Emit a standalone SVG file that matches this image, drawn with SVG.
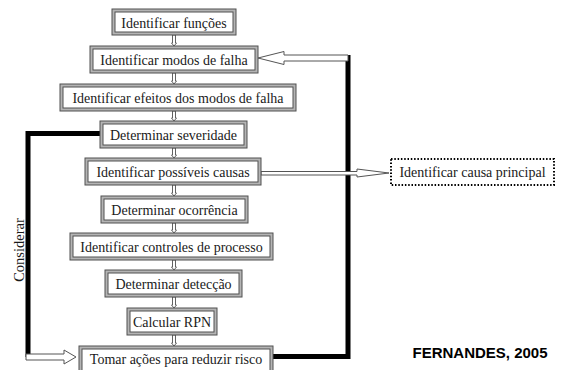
<svg xmlns="http://www.w3.org/2000/svg" width="568" height="370" viewBox="0 0 568 370">
<style>
.o{fill:#b4b4b4;stroke:#505050;stroke-width:1}
.i{fill:#fff;stroke:#505050;stroke-width:1}
.t{font-family:'Liberation Serif','Times New Roman','DejaVu Serif',serif;font-size:14px;fill:#1a1a1a;text-anchor:middle}
.c{fill:#fff;stroke:#505050;stroke-width:0.9}
.thick{fill:none;stroke:#000;stroke-width:5;stroke-linejoin:miter}
.big{fill:#fff;stroke:#555;stroke-width:1}
</style>
<rect width="568" height="370" fill="#fff"/>
<g id="connectors">
<path class="thick" d="M273,356.5 H348 V55"/>
<path class="thick" d="M100,133.5 H28 V357"/>
<path class="big" d="M348,55 V61 H284 V64.5 L258,58 L284,51.5 V55 Z"/>
<path class="big" d="M26,354 H64 V350 L76,357 L64,364 V360 H26 Z"/>
<path class="big" d="M261,171.5 H357 V169 L389,173 L357,177 V175 H261 Z"/>
<path class="c" d="M172.5,35 V43 H171.5 L174,46 L176.5,43 H175.5 V35 Z"/>
<path class="c" d="M172.5,73 V81 H171.5 L174,84 L176.5,81 H175.5 V73 Z"/>
<path class="c" d="M172.5,111 V118 H171.5 L174,121 L176.5,118 H175.5 V111 Z"/>
<path class="c" d="M172.5,148 V155 H171.5 L174,158 L176.5,155 H175.5 V148 Z"/>
<path class="c" d="M172.5,185 V193 H171.5 L174,196 L176.5,193 H175.5 V185 Z"/>
<path class="c" d="M172.5,223 V230 H171.5 L174,233 L176.5,230 H175.5 V223 Z"/>
<path class="c" d="M172.5,260 V267 H171.5 L174,270 L176.5,267 H175.5 V260 Z"/>
<path class="c" d="M172.5,297 V305 H171.5 L174,308 L176.5,305 H175.5 V297 Z"/>
<path class="c" d="M172.5,335 V343 H171.5 L174,346 L176.5,343 H175.5 V335 Z"/>
</g>
<g id="n1"><rect class="o" x="112" y="9" width="124" height="26"/><rect class="i" x="115" y="12" width="118" height="20"/><text class="t" font-family="Liberation Serif, serif" x="174" y="27.5">Identificar funções</text></g>
<g id="n2"><rect class="o" x="90" y="46" width="168" height="27"/><rect class="i" x="93" y="49" width="162" height="21"/><text class="t" x="174" y="64.5">Identificar modos de falha</text></g>
<g id="n3"><rect class="o" x="60" y="84" width="236" height="27"/><rect class="i" x="63" y="87" width="230" height="21"/><text class="t" x="178" y="102.5">Identificar efeitos dos modos de falha</text></g>
<g id="n4"><rect class="o" x="100" y="121" width="147" height="27"/><rect class="i" x="103" y="124" width="141" height="21"/><text class="t" x="173.5" y="139.5">Determinar severidade</text></g>
<g id="n5"><rect class="o" x="85" y="158" width="176" height="27"/><rect class="i" x="88" y="161" width="170" height="21"/><text class="t" x="173" y="176.5">Identificar possíveis causas</text></g>
<g id="n6"><rect class="o" x="101" y="196" width="147" height="27"/><rect class="i" x="104" y="199" width="141" height="21"/><text class="t" x="174.5" y="214.5">Determinar ocorrência</text></g>
<g id="n7"><rect class="o" x="70" y="233" width="203" height="27"/><rect class="i" x="73" y="236" width="197" height="21"/><text class="t" x="171.5" y="251.5">Identificar controles de processo</text></g>
<g id="n8"><rect class="o" x="105" y="270" width="137" height="27"/><rect class="i" x="108" y="273" width="131" height="21"/><text class="t" x="173.5" y="288.5">Determinar detecção</text></g>
<g id="n9"><rect class="o" x="127" y="308" width="90" height="27"/><rect class="i" x="130" y="311" width="84" height="21"/><text class="t" x="172" y="326.5">Calcular RPN</text></g>
<g id="n10"><rect class="o" x="79" y="346" width="194" height="30"/><rect class="i" x="82" y="349" width="188" height="24"/><text class="t" x="176" y="364">Tomar ações para reduzir risco</text></g>
<g id="n11"><rect x="391" y="159" width="163" height="26" fill="#fff" stroke="#000" stroke-width="2" stroke-dasharray="1.5 1.8"/><text class="t" x="472.5" y="177">Identificar causa principal</text></g>
<text class="t" transform="translate(23.5,250) rotate(-90)" style="font-size:14.5px">Considerar</text>
<text x="480" y="358" font-family="'Liberation Sans',Arial,sans-serif" font-size="15" font-weight="bold" text-anchor="middle" fill="#000">FERNANDES, 2005</text>
</svg>
